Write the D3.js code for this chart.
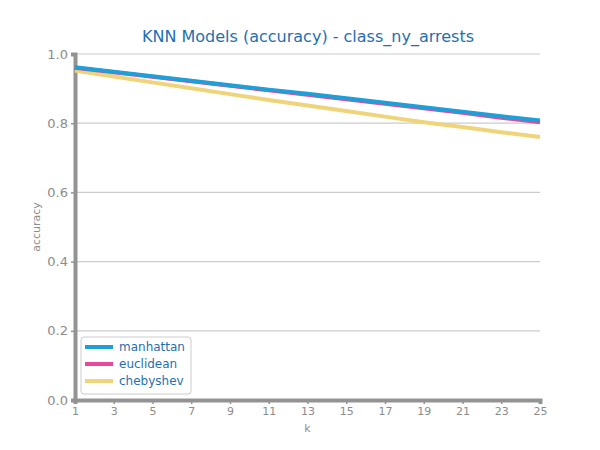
<!DOCTYPE html>
<html>
<head>
<meta charset="utf-8">
<script src="https://cdn.jsdelivr.net/npm/d3@7"></script>
<style>
body { margin: 0; background: #fff; }
text { font-family: "DejaVu Sans", sans-serif; }
</style>
</head>
<body>
<div id="chart"></div>
<script>
var ks = [1, 3, 5, 7, 9, 11, 13, 15, 17, 19, 21, 23, 25];
var manhattan = [0.962, 0.949, 0.936, 0.923, 0.910, 0.897, 0.885, 0.872, 0.859, 0.846, 0.833, 0.820, 0.808];
var euclidean = [0.960, 0.947, 0.934, 0.921, 0.908, 0.895, 0.882, 0.869, 0.856, 0.843, 0.830, 0.816, 0.803];
var chebyshev = [0.952, 0.935, 0.918, 0.901, 0.884, 0.867, 0.851, 0.835, 0.819, 0.803, 0.789, 0.774, 0.760];
var names = ["manhattan", "euclidean", "chebyshev"];
var color = ["#1e9fd8", "#e8479a", "#efd479"];
var yTicks = [0, 0.2, 0.4, 0.6, 0.8, 1.0];

var series = [manhattan, euclidean, chebyshev];
var width = 600, height = 450;
var mLeft = 75, mRight = 540, mTop = 54, mBottom = 400;

var svg = d3.select("#chart").append("svg")
	.attr("width", width).attr("height", height);

var xScale = d3.scaleLinear().domain([1, 25]).range([mLeft, mRight]);
var yScale = d3.scaleLinear().domain([0, 1]).range([mBottom, mTop]);

// gridlines
svg.append("g").selectAll("line")
	.data(yTicks).enter().append("line")
	.attr("x1", mLeft).attr("x2", mRight)
	.attr("y1", d => yScale(d)).attr("y2", d => yScale(d))
	.style("stroke", "#cccccc").style("stroke-width", 1.2);

// axes
var yAxis = svg.append("g").attr("transform", `translate(${mLeft},0)`)
	.call(d3.axisLeft(yScale).tickValues(yTicks).tickFormat(d3.format(".1f")).tickSize(4));
var xAxis = svg.append("g").attr("transform", `translate(0,${mBottom})`)
	.call(d3.axisBottom(xScale).tickValues(ks).tickSize(4));
[yAxis, xAxis].forEach(function(a) {
	a.select(".domain").style("stroke", "#939393").style("stroke-width", 4);
	a.selectAll(".tick line").style("stroke", "#939393").style("stroke-width", 1.5);
	a.selectAll("text").style("fill", "#8c8c8c");
});
yAxis.selectAll("text").style("font-size", "13px");
xAxis.selectAll("text").style("font-size", "11px");

svg.append("text").attr("x", (mLeft + mRight) / 2).attr("y", 432)
	.attr("text-anchor", "middle").style("font-size", "11px").style("fill", "#8c8c8c").text("k");
svg.append("text").attr("transform", `translate(40,${(mTop + mBottom) / 2}) rotate(-90)`)
	.attr("text-anchor", "middle").style("font-size", "11px").style("fill", "#8c8c8c").text("accuracy");
svg.append("text").attr("x", 308).attr("y", 42)
	.attr("text-anchor", "middle").style("font-size", "16px").style("fill", "#1f6fb0")
	.text("KNN Models (accuracy) - class_ny_arrests");

var line = d3.line().x((d, i) => xScale(ks[i])).y(d => yScale(d));
series.slice().reverse().forEach(function(s, j) {
	var i = series.length - 1 - j;
	svg.append("path").attr("d", line(s))
		.style("fill", "none").style("stroke", color[i]).style("stroke-width", 4);
});

// legend
var lg = svg.append("g").attr("transform", "translate(81,337)");
lg.append("rect").attr("width", 110).attr("height", 57).attr("rx", 3)
	.style("fill", "#fff").style("stroke", "#cccccc");
names.forEach(function(n, i) {
	lg.append("line").attr("x1", 4).attr("x2", 32).attr("y1", 10 + i * 17).attr("y2", 10 + i * 17)
		.style("stroke", color[i]).style("stroke-width", 4);
	lg.append("text").attr("x", 38).attr("y", 14 + i * 17)
		.style("font-size", "12px").style("fill", "#1f6fb0").text(n);
});
</script>
</body>
</html>
